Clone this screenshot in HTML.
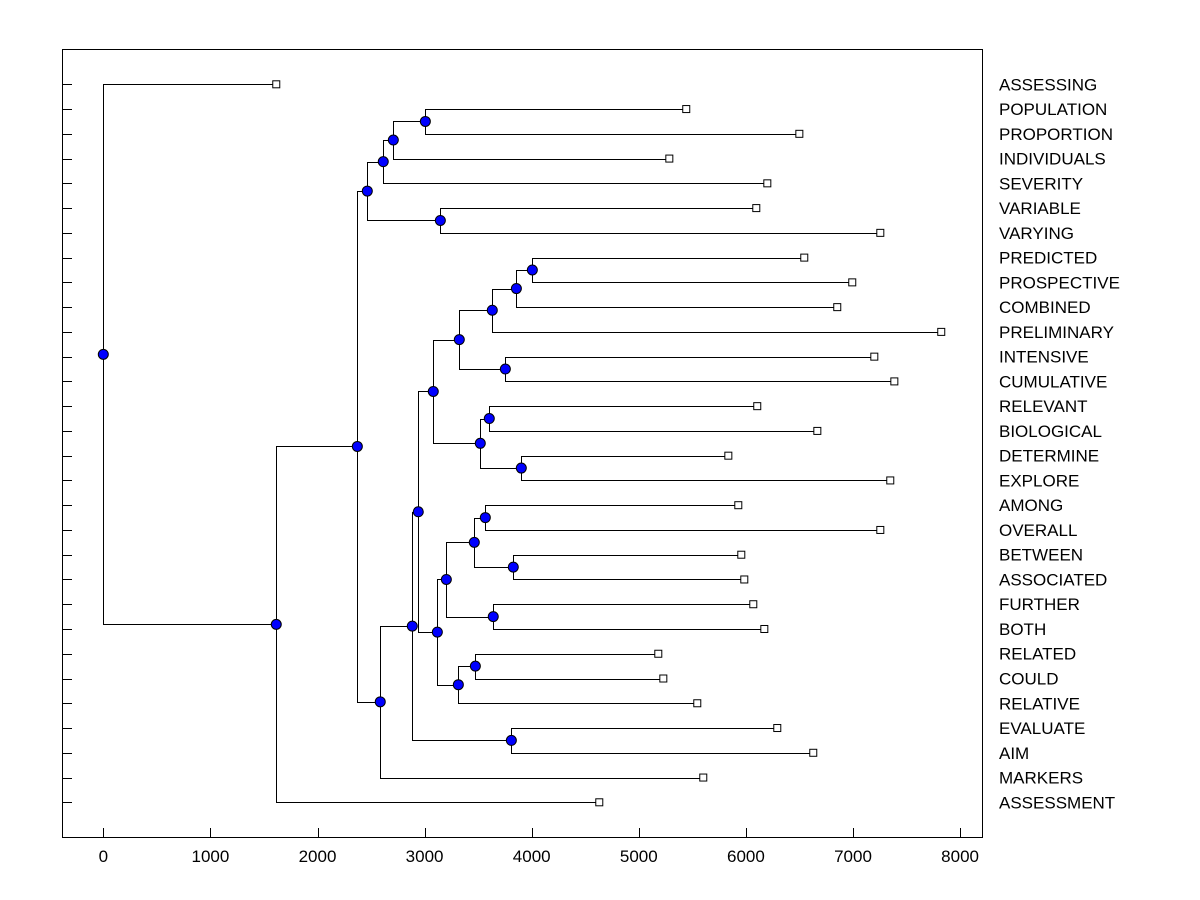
<!DOCTYPE html>
<html><head><meta charset="utf-8"><style>
html,body{margin:0;padding:0;background:#fff;width:1200px;height:900px;overflow:hidden}
svg{display:block;font-family:"Liberation Sans",Arial,sans-serif}
</style></head><body>
<svg id="chart" width="1200" height="900"></svg>
<script>
const leafLabels=["ASSESSING","POPULATION","PROPORTION","INDIVIDUALS","SEVERITY","VARIABLE","VARYING","PREDICTED","PROSPECTIVE","COMBINED","PRELIMINARY","INTENSIVE","CUMULATIVE","RELEVANT","BIOLOGICAL","DETERMINE","EXPLORE","AMONG","OVERALL","BETWEEN","ASSOCIATED","FURTHER","BOTH","RELATED","COULD","RELATIVE","EVALUATE","AIM","MARKERS","ASSESSMENT"];
const leafValues=[1615,5443,6499,5285,6200,6097,7255,6545,6993,6853,7824,7199,7386,6106,6667,5836,7348,5929,7255,5957,5985,6069,6172,5182,5229,5546,6293,6629,5602,4631];
const mergeLeft=[1,30,31,5,32,7,35,36,11,37,13,15,40,39,17,19,44,21,46,23,49,48,43,26,52,54,34,56,0];
const mergeRight=[2,3,4,6,33,8,9,10,12,38,14,16,41,42,18,20,45,22,47,24,25,50,51,27,53,28,55,29,57];
const mergeHeights=[3007,2708,2614,3147,2465,4006,3857,3632,3754,3324,3604,3903,3520,3081,3567,3828,3464,3641,3203,3474,3315,3119,2941,3810,2885,2586,2372,1615,0];
const xTicks=[0,1000,2000,3000,4000,5000,6000,7000,8000];
</script>
<script>
const NS="http://www.w3.org/2000/svg";
const svg=document.getElementById('chart');
const X=v=>103.3+v*0.1071;
const Y=i=>84.3+i*(802.3-84.3)/29;
function mk(t,a,p){const e=document.createElementNS(NS,t);for(const k in a)e.setAttribute(k,a[k]);(p||svg).appendChild(e);return e;}
const fr=mk('rect',{x:62.5,y:49.5,width:920,height:788,fill:'none',stroke:'#000','stroke-width':1});


xTicks.forEach(t=>{
  const l=mk('line',{x1:Math.round(X(t))+0.5,x2:Math.round(X(t))+0.5,y1:828,y2:838,stroke:'#000'});
  
  
  const tx=mk('text',{x:X(t),y:862,'text-anchor':'middle','font-size':17});
  tx.textContent=t;
  
  
});
const pos={},ht={};
leafLabels.forEach((n,i)=>{pos[i]=Y(i);ht[i]=leafValues[i];});
const lines=mk('g',{stroke:'#000','stroke-width':1,fill:'none'});


mergeHeights.forEach((h,k)=>{
  const id=30+k,a=mergeLeft[k],b=mergeRight[k];
  pos[id]=(pos[a]+pos[b])/2;ht[id]=h;
  const x=Math.round(X(h))+0.5;
  const p=mk('path',{d:`M${X(ht[a])},${Math.round(pos[a])+0.5}H${x}V${Math.round(pos[b])+0.5}H${X(ht[b])}`},lines);
  
  
});
leafLabels.forEach((n,i)=>{
  const y=Y(i);
  const t=mk('line',{x1:62,x2:72,y1:Math.round(y)+0.5,y2:Math.round(y)+0.5,stroke:'#000'});
  
  
  const r=mk('rect',{x:X(leafValues[i])-3.5,y:y-3.5,width:7,height:7,fill:'#fff',stroke:'#000'});
  
  
  const tx=mk('text',{x:999,y:y+6,'font-size':17});
  tx.textContent=n;
  
  
});
mergeHeights.forEach((h,k)=>{
  const id=30+k;
  const c=mk('circle',{cx:X(ht[id]),cy:pos[id],r:5,fill:'#0000ff',stroke:'#000'});
  
  
});
</script>
</body></html>
